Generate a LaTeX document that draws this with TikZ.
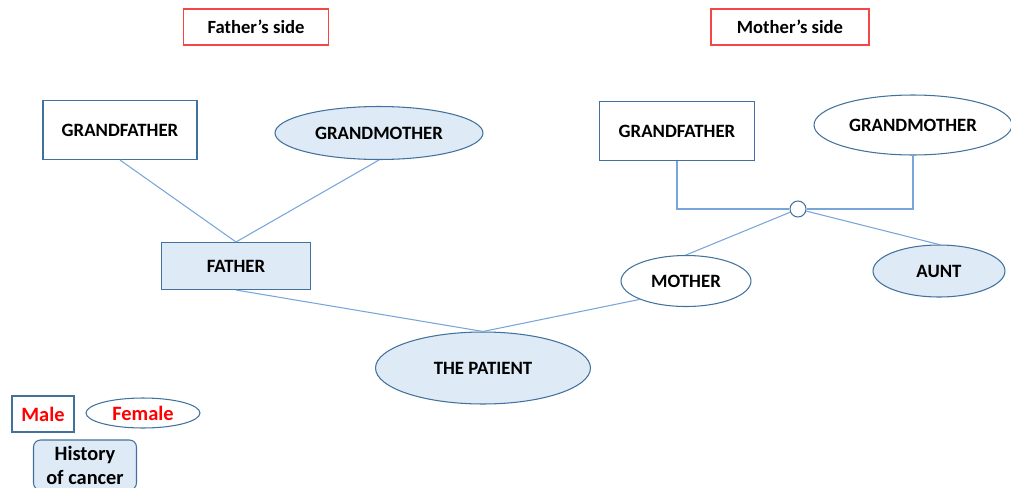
\documentclass[tikz,border=0pt]{standalone}
\usepackage{fontspec}
\setmainfont{Carlito}
\usetikzlibrary{positioning, shapes.geometric}
\definecolor{edgeblue}{RGB}{65,113,156}
\definecolor{lineblue}{RGB}{120,165,218}
\definecolor{cancerfill}{RGB}{222,234,246}
\definecolor{sidered}{RGB}{245,70,70}

\tikzset{
    male/.style={draw=edgeblue, line width=0.6pt, rectangle, inner sep=0pt, font=\bfseries\fontsize{10.7}{12.8}\selectfont},
    female/.style={draw=edgeblue, line width=0.6pt, ellipse, inner sep=0pt, font=\bfseries\fontsize{10.7}{12.8}\selectfont},
    cancer/.style={fill=cancerfill},
    sidebox/.style={draw=sidered, line width=0.6pt, inner sep=0pt, minimum height=0.72cm, font=\bfseries\fontsize{10.6}{12.7}\selectfont},
    link/.style={draw=lineblue, line width=0.6pt},
    legend/.style={font=\bfseries\fontsize{11.6}{13.6}\selectfont}
}

\begin{document}
\begin{tikzpicture}[x=0.02cm, y=-0.02cm]
    \useasboundingbox (0,0) rectangle (1011,487);
    % side titles
    \node (fside) [sidebox, minimum width=2.9cm] at (256,27) {Father’s side};
    \node (mside) [sidebox, minimum width=3.16cm] at (790,27) {Mother’s side};
    % father's family
    \node (gff) [male, minimum width=3.08cm, minimum height=1.18cm] at (120,130) {GRANDFATHER};
    \node (gmf) [female, cancer, minimum width=4.16cm, minimum height=1.06cm] at (379,133) {GRANDMOTHER};
    \node (father) [male, cancer, minimum width=2.98cm, minimum height=0.94cm] at (236,266) {FATHER};
    % mother's family
    \node (gfm) [male, minimum width=3.1cm, minimum height=1.18cm] at (677,131) {GRANDFATHER};
    \node (gmm) [female, minimum width=3.96cm, minimum height=1.2cm] at (913,125) {GRANDMOTHER};
    \node (union) [circle, draw=edgeblue, line width=0.6pt, fill=white, minimum size=0.32cm, inner sep=0pt] at (798,209) {};
    \node (mother) [female, minimum width=2.6cm, minimum height=1.02cm] at (686,281) {MOTHER};
    \node (aunt) [female, cancer, minimum width=2.64cm, minimum height=1.04cm] at (939,271) {AUNT};
    \node (patient) [female, cancer, minimum width=4.3cm, minimum height=1.44cm] at (483,368) {THE PATIENT};

    \draw [link] (gff.south) -- (father.north);
    \draw [link] (gmf.south) -- (father.north);
    \draw [link] (father.south) -- (patient.north);
    \draw [link] (patient.north) -- (mother.south west);
    \draw [link] (gfm.south) |- (union.west);
    \draw [link] (gmm.south) |- (union.east);
    \draw [link] (union) -- (mother.north);
    \draw [link] (union) -- (aunt.north);

    % legend
    \node (lmale) [male, legend, text=red, minimum width=1.24cm, minimum height=0.72cm] at (43,414) {Male};
    \node (lfemale) [female, legend, text=red, minimum width=2.28cm, minimum height=0.6cm] at (143,413) {Female};
    \node (lcancer) [male, legend, cancer, rounded corners=4pt, align=center, minimum width=2.06cm, minimum height=1.0cm] at (85,465) {History\\of cancer};
\end{tikzpicture}
\end{document}
